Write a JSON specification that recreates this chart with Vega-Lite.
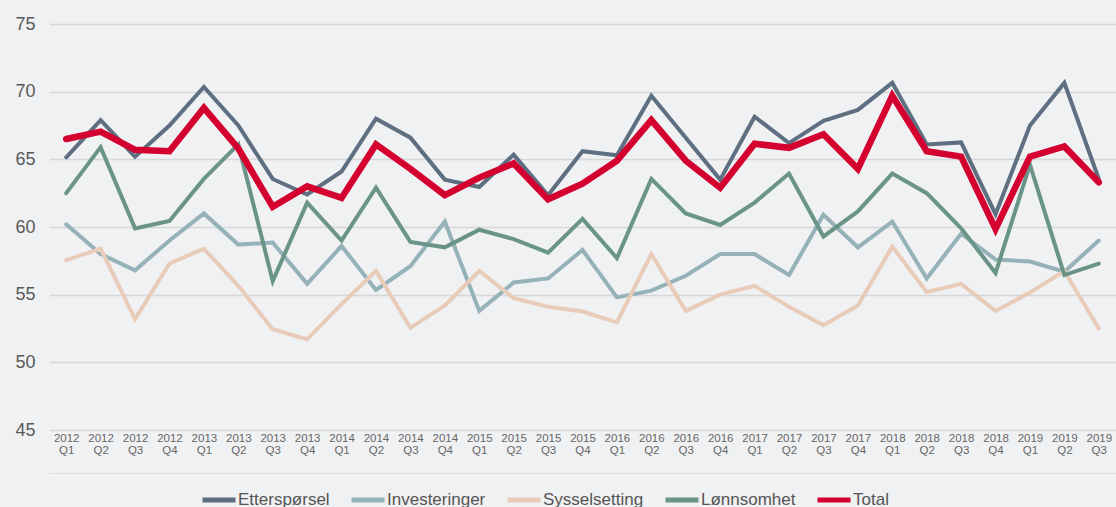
{
  "$schema": "https://vega.github.io/schema/vega-lite/v6.json",
  "width": 1067,
  "height": 406,
  "autosize": "none",
  "padding": {"left": 49, "top": 24, "right": 0, "bottom": 77},
  "background": "#f0f1f3",
  "config": {"font": "Liberation Sans", "view": {"stroke": null}},
  "data": {"values": [
    {"q": "2012 Q1", "Etterspørsel": 65.15, "Investeringer": 60.2, "Sysselsetting": 57.55, "Lønnsomhet": 62.5, "Total": 66.5},
    {"q": "2012 Q2", "Etterspørsel": 67.9, "Investeringer": 58.0, "Sysselsetting": 58.4, "Lønnsomhet": 65.9, "Total": 67.05},
    {"q": "2012 Q3", "Etterspørsel": 65.2, "Investeringer": 56.8, "Sysselsetting": 53.2, "Lønnsomhet": 59.9, "Total": 65.7},
    {"q": "2012 Q4", "Etterspørsel": 67.5, "Investeringer": 59.0, "Sysselsetting": 57.3, "Lønnsomhet": 60.45, "Total": 65.6},
    {"q": "2013 Q1", "Etterspørsel": 70.35, "Investeringer": 61.0, "Sysselsetting": 58.4, "Lønnsomhet": 63.55, "Total": 68.8},
    {"q": "2013 Q2", "Etterspørsel": 67.5, "Investeringer": 58.7, "Sysselsetting": 55.65, "Lønnsomhet": 66.1, "Total": 65.8},
    {"q": "2013 Q3", "Etterspørsel": 63.55, "Investeringer": 58.85, "Sysselsetting": 52.45, "Lønnsomhet": 56.0, "Total": 61.5},
    {"q": "2013 Q4", "Etterspørsel": 62.4, "Investeringer": 55.8, "Sysselsetting": 51.7, "Lønnsomhet": 61.8, "Total": 63.0},
    {"q": "2014 Q1", "Etterspørsel": 64.1, "Investeringer": 58.6, "Sysselsetting": 54.3, "Lønnsomhet": 59.0, "Total": 62.15},
    {"q": "2014 Q2", "Etterspørsel": 68.0, "Investeringer": 55.35, "Sysselsetting": 56.75, "Lønnsomhet": 62.9, "Total": 66.1},
    {"q": "2014 Q3", "Etterspørsel": 66.6, "Investeringer": 57.1, "Sysselsetting": 52.55, "Lønnsomhet": 58.9, "Total": 64.3},
    {"q": "2014 Q4", "Etterspørsel": 63.5, "Investeringer": 60.4, "Sysselsetting": 54.2, "Lønnsomhet": 58.5, "Total": 62.35},
    {"q": "2015 Q1", "Etterspørsel": 62.95, "Investeringer": 53.8, "Sysselsetting": 56.75, "Lønnsomhet": 59.8, "Total": 63.65},
    {"q": "2015 Q2", "Etterspørsel": 65.35, "Investeringer": 55.9, "Sysselsetting": 54.75, "Lønnsomhet": 59.1, "Total": 64.7},
    {"q": "2015 Q3", "Etterspørsel": 62.35, "Investeringer": 56.2, "Sysselsetting": 54.1, "Lønnsomhet": 58.1, "Total": 62.05},
    {"q": "2015 Q4", "Etterspørsel": 65.6, "Investeringer": 58.3, "Sysselsetting": 53.75, "Lønnsomhet": 60.6, "Total": 63.2},
    {"q": "2016 Q1", "Etterspørsel": 65.3, "Investeringer": 54.8, "Sysselsetting": 52.95, "Lønnsomhet": 57.7, "Total": 64.9},
    {"q": "2016 Q2", "Etterspørsel": 69.7, "Investeringer": 55.3, "Sysselsetting": 58.0, "Lønnsomhet": 63.55, "Total": 67.9},
    {"q": "2016 Q3", "Etterspørsel": 66.6, "Investeringer": 56.4, "Sysselsetting": 53.8, "Lønnsomhet": 61.0, "Total": 64.9},
    {"q": "2016 Q4", "Etterspørsel": 63.5, "Investeringer": 58.0, "Sysselsetting": 55.0, "Lønnsomhet": 60.15, "Total": 62.9},
    {"q": "2017 Q1", "Etterspørsel": 68.15, "Investeringer": 58.0, "Sysselsetting": 55.65, "Lønnsomhet": 61.8, "Total": 66.15},
    {"q": "2017 Q2", "Etterspørsel": 66.2, "Investeringer": 56.45, "Sysselsetting": 54.1, "Lønnsomhet": 63.95, "Total": 65.85},
    {"q": "2017 Q3", "Etterspørsel": 67.85, "Investeringer": 60.9, "Sysselsetting": 52.75, "Lønnsomhet": 59.3, "Total": 66.85},
    {"q": "2017 Q4", "Etterspørsel": 68.65, "Investeringer": 58.5, "Sysselsetting": 54.2, "Lønnsomhet": 61.15, "Total": 64.3},
    {"q": "2018 Q1", "Etterspørsel": 70.65, "Investeringer": 60.4, "Sysselsetting": 58.55, "Lønnsomhet": 63.95, "Total": 69.7},
    {"q": "2018 Q2", "Etterspørsel": 66.1, "Investeringer": 56.2, "Sysselsetting": 55.2, "Lønnsomhet": 62.5, "Total": 65.6},
    {"q": "2018 Q3", "Etterspørsel": 66.25, "Investeringer": 59.5, "Sysselsetting": 55.8, "Lønnsomhet": 59.9, "Total": 65.2},
    {"q": "2018 Q4", "Etterspørsel": 60.95, "Investeringer": 57.6, "Sysselsetting": 53.8, "Lønnsomhet": 56.6, "Total": 59.85},
    {"q": "2019 Q1", "Etterspørsel": 67.5, "Investeringer": 57.45, "Sysselsetting": 55.15, "Lønnsomhet": 64.6, "Total": 65.2},
    {"q": "2019 Q2", "Etterspørsel": 70.65, "Investeringer": 56.7, "Sysselsetting": 56.75, "Lønnsomhet": 56.45, "Total": 65.95},
    {"q": "2019 Q3", "Etterspørsel": 63.55, "Investeringer": 59.0, "Sysselsetting": 52.5, "Lønnsomhet": 57.3, "Total": 63.3}
  ]},
  "transform": [
    {"fold": ["Etterspørsel", "Investeringer", "Sysselsetting", "Lønnsomhet", "Total"], "as": ["serie", "verdi"]}
  ],
  "encoding": {
    "x": {"field": "q", "type": "ordinal", "sort": null, "scale": {"padding": 0.5}},
    "y": {
      "field": "verdi", "type": "quantitative",
      "scale": {"domain": [45, 75], "nice": false, "zero": false},
      "axis": {
        "title": null, "values": [45, 50, 55, 60, 65, 70, 75],
        "domain": false, "ticks": false,
        "gridColor": "#d6d7d9", "gridWidth": 1.3,
        "labelFontSize": 18, "labelColor": "#595959", "labelPadding": 14
      }
    },
    "color": {
      "field": "serie", "type": "nominal",
      "scale": {
        "domain": ["Etterspørsel", "Investeringer", "Sysselsetting", "Lønnsomhet", "Total"],
        "range": ["#5d6f80", "#96b2b9", "#e8cbb9", "#6b9488", "#d4002f"]
      },
      "legend": {
        "title": null, "orient": "none", "direction": "horizontal",
        "legendX": 151, "legendY": 457, "padding": 0,
        "symbolType": "stroke", "symbolSize": 1089, "symbolStrokeWidth": 5,
        "labelFontSize": 17, "labelColor": "#555555", "labelOffset": 0,
        "columnPadding": 11
      }
    }
  },
  "layer": [
    {
      "transform": [{"filter": "datum.serie != 'Total'"}],
      "mark": {"type": "line", "strokeWidth": 4, "strokeJoin": "miter", "strokeCap": "round"},
      "encoding": {
        "x": {
          "field": "q", "type": "ordinal", "sort": null, "scale": {"padding": 0.5},
          "axis": {
            "title": null, "labelAngle": 0, "labelExpr": "split(datum.label, ' ')",
            "labelFontSize": 11.5, "labelLineHeight": 12.5, "labelColor": "#666666",
            "labelPadding": 2, "ticks": false, "domain": false, "grid": false,
            "labelOverlap": false, "labelFlush": false
          }
        }
      }
    },
    {
      "transform": [{"filter": "datum.serie == 'Total'"}],
      "mark": {"type": "line", "strokeWidth": 6.5, "strokeJoin": "miter", "strokeCap": "round"},
      "encoding": {
        "x": {
          "field": "q", "type": "ordinal", "sort": null, "scale": {"padding": 0.5},
          "axis": {
            "title": null, "orient": "bottom", "offset": 43, "labels": false,
            "ticks": false, "grid": false, "domain": true,
            "domainColor": "#dcdddf", "domainWidth": 1
          }
        }
      }
    }
  ],
  "resolve": {"axis": {"x": "independent"}}
}
